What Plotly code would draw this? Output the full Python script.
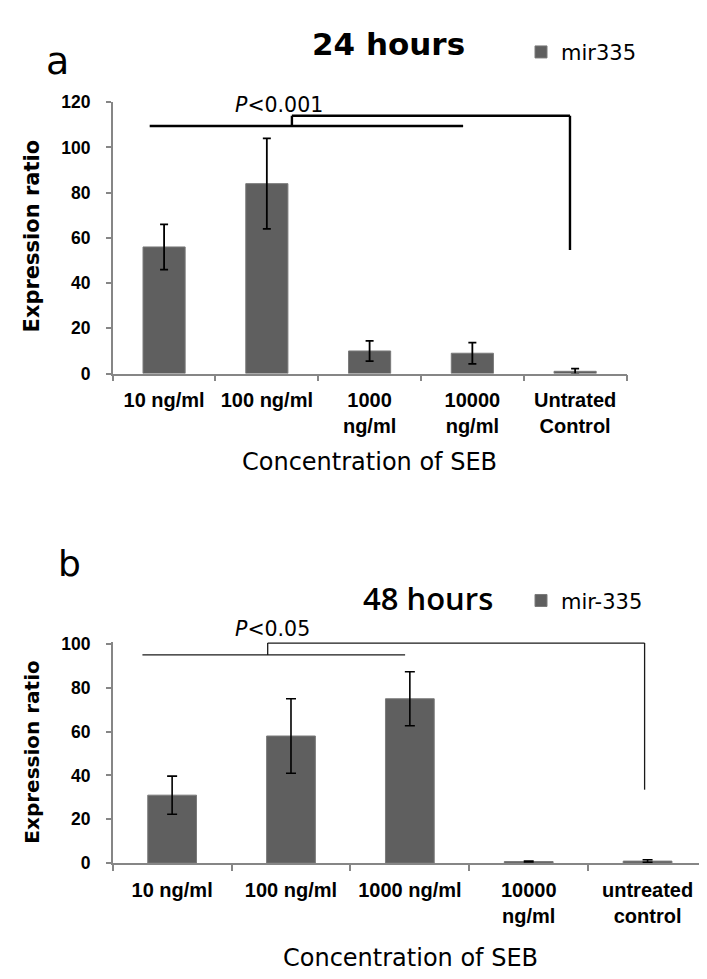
import plotly.graph_objects as go

W, H = 707, 979

# ---------------- data ----------------
cats_a = ["10 ng/ml", "100 ng/ml", "1000<br>ng/ml", "10000<br>ng/ml", "Untrated<br>Control"]
vals_a = [56, 84, 10, 9, 1]
err_a = [10, 20, 4.5, 4.7, 1.2]
series_a = "mir335"
title_a = "24 hours"
ptext_a = "<i>P</i>&lt;0.001"
# bracket: left bar span, join x, lower y, upper y, right x, right end y
bracket_a = {"x0": -0.14, "x1": 2.91, "xj": 1.244, "y_low": 109.5, "y_high": 114, "xr": 3.95, "y_end": 54.7}

cats_b = ["10 ng/ml", "100 ng/ml", "1000 ng/ml", "10000<br>ng/ml", "untreated<br>control"]
vals_b = [31, 58, 75, 0.7, 0.9]
err_b = [8.7, 17, 12.3, 0.2, 0.6]
series_b = "mir-335"
title_b = "48 hours"
ptext_b = "<i>P</i>&lt;0.05"
bracket_b = {"x0": -0.25, "x1": 1.96, "xj": 0.804, "y_low": 95, "y_high": 100.4, "xr": 3.975, "y_end": 33.5}

yticks_a = [0, 20, 40, 60, 80, 100, 120]
yticks_b = [0, 20, 40, 60, 80, 100]
xtitle = "Concentration of SEB"
ytitle = "Expression ratio"

# ---------------- style ----------------
BAR = "#5f5f5f"
AX = "#868686"
TICKFONT = "Liberation Sans, Arial, sans-serif"
TXT = "DejaVu Sans, sans-serif"


def px(x):
    return x / W


def py(y):
    return 1 - y / H


fig = go.Figure()

fig.add_trace(go.Bar(
    x=cats_a, y=vals_a, name=series_a, marker=dict(color=BAR, line=dict(color="#7a7a7a", width=1)),
    error_y=dict(type="data", array=err_a, color="black", thickness=1.8, width=4),
    xaxis="x", yaxis="y", legend="legend"))

fig.add_trace(go.Bar(
    x=cats_b, y=vals_b, name=series_b, marker=dict(color=BAR, line=dict(color="#7a7a7a", width=1)),
    error_y=dict(type="data", array=err_b, color="black", thickness=1.6, width=5),
    xaxis="x2", yaxis="y2", legend="legend2"))

common_x = dict(type="category", showline=True, linecolor=AX, linewidth=1.5,
                ticks="outside", tickson="boundaries", ticklen=6, tickcolor=AX, tickwidth=1.5,
                showgrid=False, zeroline=False, ticklabelstandoff=8,
                tickfont=dict(family=TICKFONT, size=20, color="black", weight="bold"))
common_y = dict(showline=True, linecolor=AX, linewidth=1.5, ticks="outside", ticklen=5,
                tickcolor=AX, tickwidth=1.5, showgrid=False, zeroline=False, ticklabelstandoff=12,
                tickfont=dict(family=TICKFONT, size=17.5, color="black", weight="bold"))

fig.update_layout(
    width=W, height=H, margin=dict(l=0, r=0, t=0, b=0),
    paper_bgcolor="white", plot_bgcolor="white", bargap=0.59,
    xaxis=dict(domain=[px(104.7), px(618.5)], anchor="y", range=[-0.5, 4.5], **common_x),
    yaxis=dict(domain=[py(363), py(86)], anchor="x", range=[0, 120], tickvals=yticks_a, **common_y),
    xaxis2=dict(domain=[px(104.7), px(699)], anchor="y2", range=[-0.5, 4.5], **common_x),
    yaxis2=dict(domain=[py(862.7), py(636.8)], anchor="x2", range=[0, 101], tickvals=yticks_b, **common_y),
    legend=dict(x=px(513), y=py(35), xanchor="left", yanchor="middle", bgcolor="rgba(0,0,0,0)",
                font=dict(family=TXT, size=21, color="black"), itemwidth=30),
    legend2=dict(x=px(513), y=py(595), xanchor="left", yanchor="middle", bgcolor="rgba(0,0,0,0)",
                 font=dict(family=TXT, size=21, color="black"), itemwidth=30),
    showlegend=True,
)


def bracket(b, xref, yref, width, color):
    segs = [
        (b["x0"], b["y_low"], b["x1"], b["y_low"]),
        (b["xj"], b["y_low"], b["xj"], b["y_high"]),
        (b["xj"], b["y_high"], b["xr"], b["y_high"]),
        (b["xr"], b["y_high"], b["xr"], b["y_end"]),
    ]
    for x0, y0, x1, y1 in segs:
        fig.add_shape(type="line", xref=xref, yref=yref, x0=x0, y0=y0, x1=x1, y1=y1,
                      line=dict(color=color, width=width))


bracket(bracket_a, "x", "y", 2.4, "black")
bracket(bracket_b, "x2", "y2", 1.3, "#1a1a1a")

ann = [
    dict(text="a", x=px(49), y=py(44), size=38, family=TXT, weight="normal"),
    dict(text=title_a, x=px(380), y=py(27), size=31, family=TXT, weight="bold"),
    dict(text=ptext_a, x=px(271), y=py(89), size=20.5, family=TXT, weight="normal"),
    dict(text=ytitle, x=px(24), y=py(223), size=21, family=TXT, weight="bold", angle=-90),
    dict(text=xtitle, x=px(361.6), y=py(453), size=24, family=TXT, weight="normal"),
    dict(text="b", x=px(61), y=py(557), size=36, family=TXT, weight="normal"),
    dict(text=title_b, x=px(420), y=py(592), size=31, family="Open Sans, sans-serif", weight=600),
    dict(text=ptext_b, x=px(264), y=py(624), size=20.5, family=TXT, weight="normal"),
    dict(text=ytitle, x=px(24), y=py(750), size=20, family=TXT, weight="bold", angle=-90),
    dict(text=xtitle, x=px(402), y=py(960), size=24, family=TXT, weight="normal"),
]
for a in ann:
    fig.add_annotation(text=a["text"], x=a["x"], y=a["y"], xref="paper", yref="paper",
                       xanchor="center", yanchor="middle", showarrow=False,
                       textangle=a.get("angle", 0),
                       font=dict(family=a["family"], size=a["size"], color="black", weight=a["weight"]))

fig.write_html("out.html")
